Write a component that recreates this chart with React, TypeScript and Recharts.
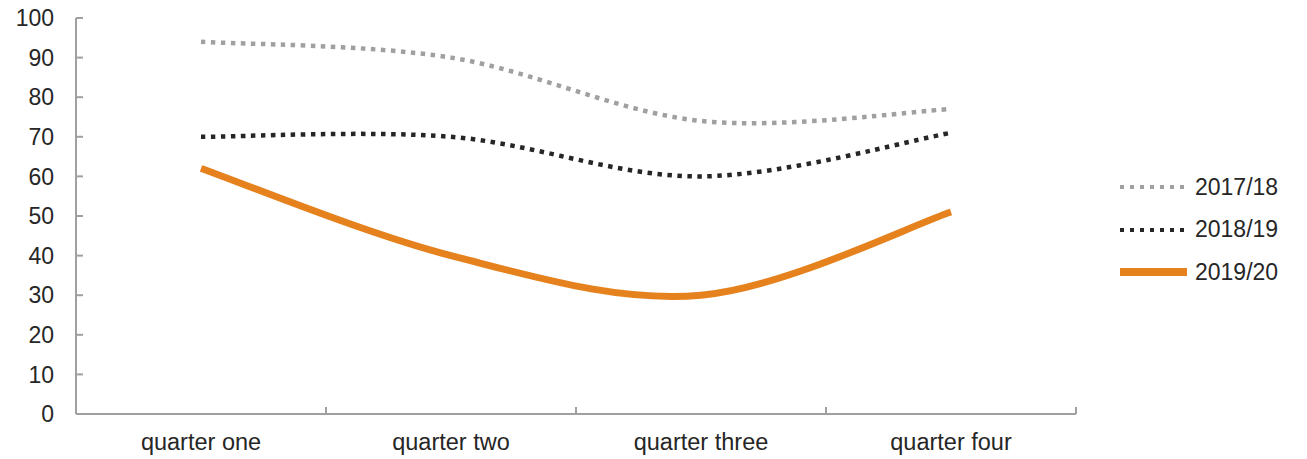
import { LineChart, Line, XAxis, YAxis } from 'recharts';

const quarters = ['quarter one', 'quarter two', 'quarter three', 'quarter four'];
const y2017 = [94, 90, 74, 77];
const y2018 = [70, 70, 60, 71];
const y2019 = [62, 40, 30, 51];
const yTicks = [0, 10, 20, 30, 40, 50, 60, 70, 80, 90, 100];

const data = quarters.map((q, i) => ({ quarter: q, a: y2017[i], b: y2018[i], c: y2019[i] }));

const series = [
  { key: 'a', name: '2017/18', color: '#a0a0a0', width: 4.5, dash: '4.5 5.5' },
  { key: 'b', name: '2018/19', color: '#262626', width: 4.5, dash: '4.5 5.5' },
  { key: 'c', name: '2019/20', color: '#e6821e', width: 7, dash: undefined },
];

const FONT = '"Liberation Sans", Arial, sans-serif';
const AXIS = '#a0a0a0';

// excel-style smoothing (catmull-rom through the points)
const smooth = (context: any) => {
  let pts: number[][] = [];
  return {
    areaStart() {},
    areaEnd() {},
    lineStart() { pts = []; },
    lineEnd() {
      const n = pts.length;
      if (!n) return;
      context.moveTo(pts[0][0], pts[0][1]);
      for (let i = 0; i < n - 1; i++) {
        const p0 = pts[i - 1] || pts[i];
        const p1 = pts[i];
        const p2 = pts[i + 1];
        const p3 = pts[i + 2] || pts[i + 1];
        context.bezierCurveTo(
          p1[0] + (p2[0] - p0[0]) / 6, p1[1] + (p2[1] - p0[1]) / 6,
          p2[0] - (p3[0] - p1[0]) / 6, p2[1] - (p3[1] - p1[1]) / 6,
          p2[0], p2[1],
        );
      }
    },
    point(x: number, y: number) { pts.push([+x, +y]); },
  };
};

const QuarterTick = (props: any) => {
  const { x, y, payload, index } = props;
  const half = payload.offset || 125;
  return (
    <g>
      <line x1={x - half} x2={x - half} y1={y} y2={y - 7} stroke={AXIS} strokeWidth={2} />
      {index === quarters.length - 1 && (
        <line x1={x + half} x2={x + half} y1={y} y2={y - 7} stroke={AXIS} strokeWidth={2} />
      )}
      <text x={x} y={y + 36} textAnchor="middle" fill="#262626" fontSize={23.5} fontFamily={FONT}>
        {payload.value}
      </text>
    </g>
  );
};

const ValueTick = (props: any) => {
  const { x, y, payload } = props;
  return (
    <g>
      <line x1={x} x2={x + 7} y1={y} y2={y} stroke={AXIS} strokeWidth={2} />
      <text x={x - 22} y={y} dy="0.355em" textAnchor="end" fill="#262626" fontSize={23} fontFamily={FONT}>
        {payload.value}
      </text>
    </g>
  );
};

const LegendBox = () => (
  <div style={{ position: 'absolute', left: 1120, top: 166, fontFamily: FONT, fontSize: 23, color: '#262626' }}>
    {series.map((s) => (
      <div key={s.key} style={{ display: 'flex', alignItems: 'center', height: 42.5 }}>
        <svg width={67} height={10} style={{ marginRight: 8 }}>
          <line x1={0} x2={67} y1={5} y2={5} stroke={s.color} strokeWidth={s.key === 'c' ? 8 : 4} strokeDasharray={s.key === 'c' ? undefined : '4 6'} />
        </svg>
        <span>{s.name}</span>
      </div>
    ))}
  </div>
);

export default function App() {
  return (
    <div style={{ position: 'absolute', left: 0, top: 0, width: 1307, height: 459, background: '#fff' }}>
      <LineChart width={1307} height={459} data={data} margin={{ top: 18, right: 231, left: 0, bottom: 0 }}>
        <XAxis
          dataKey="quarter"
          scale="band"
          height={45}
          stroke={AXIS}
          strokeWidth={2}
          tickLine={false}
          tickSize={0}
          tickMargin={0}
          interval={0}
          tick={<QuarterTick />}
        />
        <YAxis
          width={76}
          domain={[0, 100]}
          ticks={yTicks}
          stroke={AXIS}
          strokeWidth={2}
          tickLine={false}
          tickSize={0}
          tickMargin={0}
          interval={0}
          tick={<ValueTick />}
        />
        {series.map((s) => (
          <Line
            key={s.key}
            dataKey={s.key}
            name={s.name}
            type={smooth as any}
            stroke={s.color}
            strokeWidth={s.width}
            strokeDasharray={s.dash}
            dot={false}
            activeDot={false}
            isAnimationActive={false}
          />
        ))}
      </LineChart>
      <LegendBox />
    </div>
  );
}
